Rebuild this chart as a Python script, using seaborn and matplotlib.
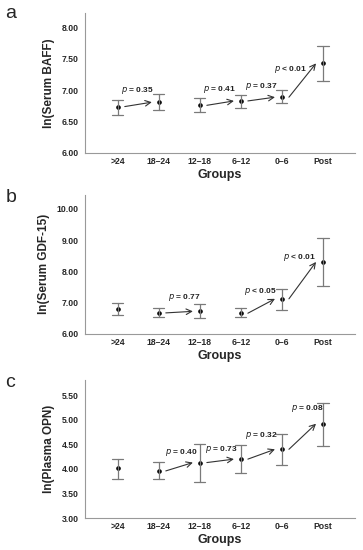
import numpy as np
import pandas as pd
import seaborn as sns
import matplotlib.pyplot as plt

# --- DATA ---
groups = [">24", "18–24", "12–18", "6–12", "0–6", "Post"]

# panel a: ln(Serum BAFF) mean with interval
baff_mean = [6.74, 6.81, 6.76, 6.83, 6.89, 7.43]
baff_low = [6.61, 6.68, 6.66, 6.72, 6.79, 7.15]
baff_high = [6.85, 6.94, 6.88, 6.93, 7.00, 7.70]

# panel b: ln(Serum GDF-15)
gdf_mean = [6.80, 6.67, 6.72, 6.66, 7.12, 8.30]
gdf_low = [6.59, 6.54, 6.52, 6.54, 6.76, 7.53]
gdf_high = [6.98, 6.83, 6.95, 6.84, 7.45, 9.06]

# panel c: ln(Plasma OPN)
opn_mean = [4.01, 3.96, 4.13, 4.20, 4.40, 4.92]
opn_low = [3.79, 3.79, 3.74, 3.92, 4.09, 4.47]
opn_high = [4.21, 4.14, 4.50, 4.48, 4.71, 5.35]

# comparisons: (from group, to group, p label)
baff_tests = [(0, 1, "= 0.35"), (2, 3, "= 0.41"), (3, 4, "= 0.37"), (4, 5, "< 0.01")]
gdf_tests = [(1, 2, "= 0.77"), (3, 4, "< 0.05"), (4, 5, "< 0.01")]
opn_tests = [(1, 2, "= 0.40"), (2, 3, "= 0.73"), (3, 4, "= 0.32"), (4, 5, "= 0.08")]

# where each p label sits (data coords, right edge of text)
baff_label_pos = [(0.88, 7.00), (2.88, 7.01), (3.90, 7.06), (4.60, 7.33)]
gdf_label_pos = [(2.02, 7.17), (3.88, 7.34), (4.82, 8.43)]
opn_label_pos = [(1.95, 4.34), (2.93, 4.40), (3.90, 4.68), (5.02, 5.22)]

panels = [
    ("a", "ln(Serum BAFF)", baff_mean, baff_low, baff_high, baff_tests, baff_label_pos,
     (6.0, 8.24), np.arange(6.0, 8.01, 0.5)),
    ("b", "ln(Serum GDF-15)", gdf_mean, gdf_low, gdf_high, gdf_tests, gdf_label_pos,
     (6.0, 10.45), np.arange(6.0, 10.01, 1.0)),
    ("c", "ln(Plasma OPN)", opn_mean, opn_low, opn_high, opn_tests, opn_label_pos,
     (3.0, 5.82), np.arange(3.0, 5.51, 0.5)),
]

sns.set_style("white")
plt.rcParams["font.family"] = ["Liberation Sans", "DejaVu Sans"]

fig = plt.figure(figsize=(3.63, 5.5), dpi=100)
axes_boxes = [
    [0.234, 0.722, 0.744, 0.255],
    [0.234, 0.393, 0.744, 0.253],
    [0.234, 0.058, 0.744, 0.252],
]
letter_y = [0.99, 0.657, 0.32]

for box, ly, (letter, ylab, mean, low, high, tests, lpos, ylim, yticks) in zip(
        axes_boxes, letter_y, panels):
    ax = fig.add_axes(box)

    # long table: low/mean/high per group -> median + full range gives mean and interval
    df = pd.DataFrame({
        "group": np.repeat(groups, 3),
        "value": np.ravel(np.column_stack([low, mean, high])),
    })
    sns.pointplot(data=df, x="group", y="value", order=groups,
                  estimator="median", errorbar=("pi", 100),
                  linestyle="none", color="black", markers="o", markersize=1.3,
                  capsize=0.27, err_kws={"color": "#7a7a7a", "linewidth": 0.9},
                  ax=ax)

    for (i, j, ptxt), (lx, ly_) in zip(tests, lpos):
        ax.annotate("", xy=(j - 0.17, mean[j]), xytext=(i + 0.17, mean[i]),
                    arrowprops=dict(arrowstyle="->", color="#333333", lw=0.8,
                                    shrinkA=0, shrinkB=0))
        ax.text(lx, ly_, r"$\it{p}$ " + ptxt, ha="right", va="center",
                fontsize=6, fontweight="bold", color="#222222")

    ax.set_xlim(-0.8, 5.78)
    ax.set_ylim(*ylim)
    ax.set_yticks(yticks)
    ax.set_yticklabels([f"{t:.2f}" for t in yticks])
    ax.set_xlabel("Groups", fontsize=9, fontweight="bold", labelpad=2)
    ax.set_ylabel(ylab, fontsize=8.5, fontweight="bold", labelpad=5)
    ax.tick_params(axis="y", length=2.5, width=0.7, color="#888888",
                   labelsize=6.2, pad=2)
    ax.tick_params(axis="x", length=0, labelsize=6.2, pad=3)
    for lab in ax.get_xticklabels() + ax.get_yticklabels():
        lab.set_fontweight("bold")
    sns.despine(ax=ax)
    for s in ["left", "bottom"]:
        ax.spines[s].set_color("#999999")
        ax.spines[s].set_linewidth(0.8)

    fig.text(0.015, ly, letter, fontsize=14, ha="left", va="top")

fig.savefig("out.png", dpi=100)
